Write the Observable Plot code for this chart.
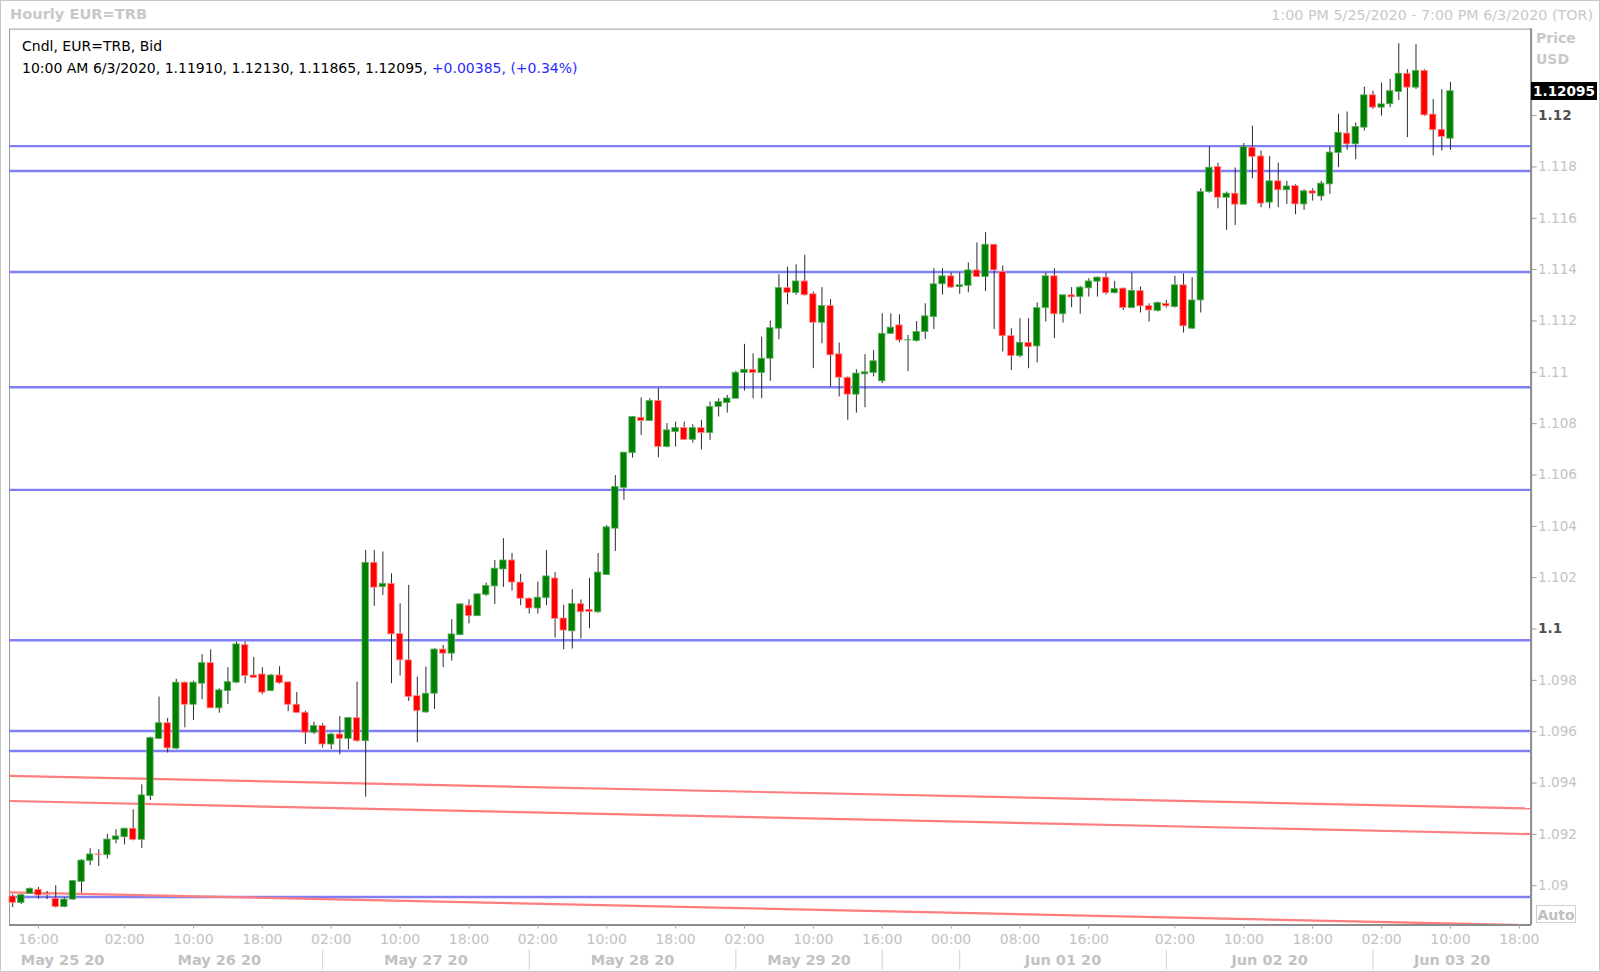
<!DOCTYPE html>
<html>
<head>
<meta charset="utf-8">
<script src="https://cdn.jsdelivr.net/npm/d3@7"></script>
<script src="https://cdn.jsdelivr.net/npm/@observablehq/plot@0.6"></script>
<style>
  html, body { margin: 0; padding: 0; background: #fff; overflow: hidden; }
  #wrap { position: relative; width: 1600px; height: 972px; font-family: "DejaVu Sans", sans-serif; }
  #wrap svg { position: absolute; left: 0; top: 0; }
  .ov { position: absolute; white-space: nowrap; line-height: 1; }
  #outer { position: absolute; left: 0; top: 0; width: 1598px; height: 970px; border: 1px solid #c8c8c8; pointer-events: none; }
</style>
</head>
<body>
<div id="wrap"></div>
<script>
// ---- data (EUR=TRB hourly candles, 13:00 25 May 2020 .. 10:00 3 Jun 2020) ----
const opens = [
1.08958,1.08933,1.08969,1.08984,1.08966,1.08949,1.08917,1.08946,1.09015,1.09097,
1.09122,1.09119,1.09179,1.09189,1.09222,1.09179,1.09349,1.09572,1.09633,1.09534,
1.09791,1.09705,1.09787,1.09867,1.09691,1.09758,1.09791,1.09937,1.09819,1.09823,
1.09758,1.09819,1.09792,1.09705,1.09674,1.09596,1.09622,1.09550,1.09589,1.09572,
1.09653,1.09563,1.10258,1.10163,1.10176,1.09981,1.09878,1.09739,1.09675,1.09748,
1.09920,1.09904,1.09976,1.10091,1.10050,1.10133,1.10166,1.10232,1.10267,1.10181,
1.10118,1.10080,1.10120,1.10197,1.10041,1.09991,1.10097,1.10075,1.10065,1.10210,
1.10391,1.10550,1.10685,1.10823,1.10810,1.10888,1.10709,1.10767,1.10783,1.10737,
1.10783,1.10763,1.10865,1.10880,1.10897,1.10997,1.11010,1.10997,1.11053,1.11170,
1.11328,1.11309,1.11354,1.11304,1.11193,1.11258,1.11070,1.10979,1.10913,1.10992,
1.10997,1.10965,1.11150,1.11183,1.11124,1.11122,1.11157,1.11215,1.11343,1.11374,
1.11332,1.11337,1.11397,1.11371,1.11497,1.11391,1.11141,1.11063,1.11115,1.11101,
1.11250,1.11374,1.11226,1.11300,1.11293,1.11327,1.11353,1.11369,1.11308,1.11326,
1.11250,1.11317,1.11258,1.11239,1.11267,1.11254,1.11339,1.11170,1.11280,1.11702,
1.11800,1.11680,1.11696,1.11653,1.11875,1.11841,1.11661,1.11744,1.11709,1.11726,
1.11654,1.11705,1.11685,1.11732,1.11854,1.11930,1.11888,1.11953,1.12079,1.12031,
1.12044,1.12092,1.12163,1.12109,1.12174,1.12004,1.11945,1.11910];
const highs = [
1.08965,1.08966,1.08991,1.08993,1.08978,1.09000,1.08953,1.09020,1.09102,1.09144,
1.09140,1.09200,1.09218,1.09224,1.09296,1.09393,1.09579,1.09735,1.09652,1.09804,
1.09793,1.09797,1.09900,1.09919,1.09767,1.09849,1.09949,1.09949,1.09889,1.09849,
1.09823,1.09853,1.09795,1.09753,1.09680,1.09637,1.09631,1.09594,1.09659,1.09656,
1.09793,1.10306,1.10306,1.10300,1.10215,1.10098,1.10170,1.09813,1.09852,1.09923,
1.09936,1.10036,1.10098,1.10114,1.10137,1.10179,1.10267,1.10352,1.10294,1.10213,
1.10121,1.10183,1.10306,1.10220,1.10093,1.10153,1.10113,1.10197,1.10294,1.10403,
1.10598,1.10687,1.10828,1.10900,1.10897,1.10936,1.10800,1.10806,1.10806,1.10796,
1.10813,1.10884,1.10897,1.10910,1.11004,1.11109,1.11072,1.11137,1.11200,1.11380,
1.11410,1.11419,1.11456,1.11313,1.11330,1.11284,1.11114,1.10982,1.11010,1.11069,
1.11085,1.11228,1.11228,1.11224,1.11144,1.11198,1.11267,1.11404,1.11404,1.11387,
1.11387,1.11426,1.11504,1.11544,1.11497,1.11414,1.11170,1.11209,1.11209,1.11270,
1.11387,1.11404,1.11300,1.11330,1.11335,1.11365,1.11371,1.11387,1.11354,1.11328,
1.11387,1.11332,1.11267,1.11274,1.11280,1.11374,1.11384,1.11369,1.11715,1.11878,
1.11815,1.11702,1.11796,1.11891,1.11959,1.11862,1.11841,1.11815,1.11744,1.11731,
1.11711,1.11715,1.11744,1.11878,1.12005,1.12014,1.11971,1.12111,1.12095,1.12127,
1.12141,1.12280,1.12179,1.12276,1.12179,1.12063,1.12101,1.12130];
const lows = [
1.08915,1.08927,1.08966,1.08948,1.08946,1.08913,1.08914,1.08943,1.08971,1.09078,
1.09075,1.09104,1.09163,1.09159,1.09175,1.09145,1.09332,1.09569,1.09517,1.09530,
1.09615,1.09644,1.09724,1.09691,1.09672,1.09706,1.09787,1.09787,1.09809,1.09744,
1.09756,1.09785,1.09678,1.09671,1.09550,1.09589,1.09536,1.09530,1.09510,1.09530,
1.09559,1.09345,1.10088,1.10131,1.09787,1.09817,1.09718,1.09557,1.09672,1.09687,
1.09850,1.09875,1.09974,1.10020,1.10049,1.10127,1.10096,1.10162,1.10148,1.10091,
1.10058,1.10058,1.10091,1.09965,1.09919,1.09922,1.09961,1.10001,1.10062,1.10210,
1.10302,1.10501,1.10666,1.10754,1.10810,1.10667,1.10706,1.10709,1.10737,1.10724,
1.10698,1.10735,1.10826,1.10841,1.10896,1.10927,1.10897,1.10897,1.10965,1.11127,
1.11263,1.11300,1.11297,1.11014,1.11111,1.10943,1.10904,1.10813,1.10841,1.10862,
1.10982,1.10956,1.11148,1.11115,1.11003,1.11118,1.11128,1.11167,1.11301,1.11326,
1.11304,1.11310,1.11371,1.11315,1.11167,1.11079,1.11007,1.11057,1.11014,1.11037,
1.11196,1.11131,1.11192,1.11252,1.11226,1.11293,1.11293,1.11301,1.11306,1.11241,
1.11248,1.11231,1.11196,1.11235,1.11250,1.11250,1.11153,1.11167,1.11231,1.11698,
1.11637,1.11553,1.11572,1.11653,1.11754,1.11641,1.11637,1.11641,1.11654,1.11614,
1.11631,1.11667,1.11667,1.11693,1.11797,1.11865,1.11828,1.11940,1.12024,1.11998,
1.12031,1.12059,1.11914,1.12102,1.11997,1.11843,1.11862,1.11865];
const closes = [
1.08933,1.08963,1.08988,1.08962,1.08963,1.08917,1.08946,1.09018,1.09098,1.09122,
1.09120,1.09180,1.09192,1.09222,1.09179,1.09352,1.09575,1.09633,1.09535,1.09791,
1.09705,1.09791,1.09867,1.09691,1.09761,1.09793,1.09940,1.09817,1.09810,1.09752,
1.09819,1.09789,1.09705,1.09673,1.09596,1.09622,1.09550,1.09589,1.09572,1.09653,
1.09563,1.10258,1.10161,1.10176,1.09979,1.09878,1.09735,1.09680,1.09748,1.09920,
1.09904,1.09979,1.10096,1.10050,1.10135,1.10168,1.10235,1.10267,1.10181,1.10118,
1.10080,1.10122,1.10205,1.10039,1.09994,1.10097,1.10065,1.10066,1.10220,1.10396,
1.10553,1.10687,1.10826,1.10810,1.10888,1.10709,1.10774,1.10783,1.10737,1.10783,
1.10763,1.10865,1.10884,1.10898,1.10998,1.11010,1.10997,1.11053,1.11172,1.11328,
1.11309,1.11354,1.11300,1.11193,1.11258,1.11066,1.10979,1.10913,1.10995,1.11000,
1.11043,1.11150,1.11174,1.11124,1.11125,1.11157,1.11218,1.11343,1.11374,1.11330,
1.11339,1.11397,1.11371,1.11497,1.11397,1.11141,1.11063,1.11115,1.11098,1.11250,
1.11374,1.11226,1.11300,1.11292,1.11330,1.11354,1.11369,1.11308,1.11324,1.11250,
1.11317,1.11257,1.11241,1.11270,1.11257,1.11339,1.11179,1.11280,1.11702,1.11797,
1.11680,1.11696,1.11653,1.11878,1.11839,1.11657,1.11744,1.11709,1.11724,1.11654,
1.11705,1.11696,1.11735,1.11856,1.11933,1.11888,1.11956,1.12079,1.12031,1.12044,
1.12095,1.12163,1.12109,1.12174,1.12001,1.11943,1.11917,1.12095];

// horizontal support / resistance levels (blue)
const levels = [1.11881, 1.11784, 1.11391, 1.10942, 1.10542, 1.09956, 1.09603, 1.09525, 1.08956];
// sloping trend lines (red): value at left edge, value at right edge
const trendStart = [1.09428, 1.09330, 1.08974];
const trendEnd   = [1.09301, 1.09201, 1.08846];

// axes
const yTicks = [1.09,1.092,1.094,1.096,1.098,1.1,1.102,1.104,1.106,1.108,1.11,1.112,1.114,1.116,1.118,1.12];
const yMajor = [1.1, 1.12];
const timeTickIdx = [3,13,21,29,37,45,53,61,69,77,85,93,101,109,117,125,135,143,151,159,167,175];
const timeTickLabels = ["16:00","02:00","10:00","18:00","02:00","10:00","18:00","02:00","10:00","18:00","02:00","10:00","16:00","00:00","08:00","16:00","02:00","10:00","18:00","02:00","10:00","18:00"];
const daySepIdx = [36, 60, 84, 101, 110, 134, 158];
const dayLabelIdx = [5.8, 24, 48, 72, 92.5, 122, 146, 167.2];
const dayLabels = ["May 25 20","May 26 20","May 27 20","May 28 20","May 29 20","Jun 01 20","Jun 02 20","Jun 03 20"];
const xDomain = [-0.37, 176.37];
const yDomain = [1.08847, 1.12337];

const last = {time: "10:00 AM 6/3/2020", open: 1.11910, high: 1.12130, low: 1.11865, close: 1.12095, chg: "+0.00385", pct: "(+0.34%)"};

// ---- build tables ----
const candles = opens.map((o, i) => ({i, open: o, high: highs[i], low: lows[i], close: closes[i], up: closes[i] >= o}));
const trends = trendStart.map((s, k) => ({start: s, end: trendEnd[k]}));
const timeTicks = timeTickIdx.map((i, k) => ({i, label: timeTickLabels[k]}));
const dayTicks = dayLabelIdx.map((i, k) => ({i, label: dayLabels[k]}));
const fmtY = d => d3.format(".3~f")(d);

const GREEN = "#008000", RED = "#ff0000";

const chart = Plot.plot({
  width: 1600,
  height: 972,
  marginTop: 28.6,
  marginBottom: 47.5,
  marginLeft: 9,
  marginRight: 69.4,
  x: {domain: xDomain, axis: null, label: null},
  y: {domain: yDomain, axis: null, label: null},
  style: {background: "transparent", fontFamily: "DejaVu Sans, sans-serif", overflow: "visible"},
  marks: [
    Plot.frame({stroke: "#9a9a9a", strokeWidth: 1}),
    Plot.ruleY(levels, {stroke: "#7f7ff5", strokeWidth: 2.4}),
    Plot.link(trends, {x1: () => xDomain[0], x2: () => xDomain[1], y1: "start", y2: "end", stroke: "#ff7d7d", strokeWidth: 2.2, clip: true}),
    Plot.ruleX(candles, {x: "i", y1: "low", y2: "high", stroke: "#2b2b2b", strokeWidth: 1}),
    Plot.rect(candles, {
      x1: d => d.i - 0.37, x2: d => d.i + 0.37,
      y1: "open", y2: "close",
      fill: d => d.up ? GREEN : RED,
      stroke: d => d.up ? "#5daf5d" : "#ff8a8a",
      strokeWidth: 0.8
    }),
    // right & bottom axis lines
    Plot.ruleX([xDomain[1]], {stroke: "#8c8c8c", strokeWidth: 2}),
    Plot.ruleY([yDomain[0]], {stroke: "#8c8c8c", strokeWidth: 2}),
    // y axis ticks and labels
    Plot.axisY({anchor: "right", ticks: yTicks, tickSize: 5, tickPadding: 3, tickFormat: () => "", stroke: "#9a9a9a", label: null}),
    Plot.text(yTicks.filter(t => !yMajor.includes(t)), {y: d => d, text: fmtY, frameAnchor: "right", textAnchor: "start", dx: 7, fill: "#c4c4c4", fontSize: 13.6}),
    Plot.text(yMajor, {y: d => d, text: fmtY, frameAnchor: "right", textAnchor: "start", dx: 7, fill: "#505050", fontWeight: "bold", fontSize: 13.6}),
    // x axis ticks and labels
    Plot.axisX({anchor: "bottom", ticks: timeTickIdx, tickSize: 4, tickFormat: () => "", stroke: "#a8a8a8", label: null}),
    Plot.text(timeTicks, {x: "i", text: "label", frameAnchor: "bottom", lineAnchor: "middle", dy: 15, fill: "#c2c2c2", fontSize: 14}),
    Plot.axisX({anchor: "bottom", ticks: daySepIdx, tickSize: 20, dy: 25, tickFormat: () => "", stroke: "#d0d0d0", label: null}),
    Plot.text(dayTicks, {x: "i", text: "label", frameAnchor: "bottom", lineAnchor: "middle", dy: 35, fill: "#c2c2c2", fontWeight: "bold", fontSize: 14.5})
  ]
});

const wrap = document.getElementById("wrap");
wrap.appendChild(chart);

function ov(html, css) {
  const d = document.createElement("div");
  d.className = "ov";
  d.innerHTML = html;
  Object.assign(d.style, css);
  wrap.appendChild(d);
  return d;
}
// title bar
ov("Hourly EUR=TRB", {left: "10px", top: "7px", fontSize: "14.6px", fontWeight: "bold", color: "#c8c8c8"});
ov("1:00 PM 5/25/2020 - 7:00 PM 6/3/2020 (TOR)", {right: "7px", top: "8px", fontSize: "14.3px", color: "#c8c8c8"});
// legend inside plot
ov("Cndl, EUR=TRB, Bid", {left: "22px", top: "39px", fontSize: "14px", color: "#000"});
ov(`${last.time}, ${last.open.toFixed(5)}, ${last.high.toFixed(5)}, ${last.low.toFixed(5)}, ${last.close.toFixed(5)}, <span style="color:#2a2aff">${last.chg}, ${last.pct}</span>`,
   {left: "22px", top: "61px", fontSize: "14px", color: "#000"});
// price axis caption
ov("Price", {left: "1536px", top: "31px", fontSize: "14px", fontWeight: "bold", color: "#c8c8c8"});
ov("USD", {left: "1536px", top: "52px", fontSize: "14px", fontWeight: "bold", color: "#c8c8c8"});
// last price marker
const yLast = chart.scale("y").apply(last.close);
ov(last.close.toFixed(5), {left: "1531px", top: (yLast - 9) + "px", width: "66px", height: "18px", lineHeight: "18px",
   background: "#000", color: "#fff", fontWeight: "bold", fontSize: "13.6px", textAlign: "center"});
// Auto button
ov("Auto", {left: "1536px", top: "905px", width: "40px", height: "18px", lineHeight: "18px", border: "1px solid #d0d0d0",
   boxSizing: "border-box", color: "#c0c0c0", fontWeight: "bold", fontSize: "14px", textAlign: "center"});
// outer border
const ob = document.createElement("div"); ob.id = "outer"; wrap.appendChild(ob);
</script>
</body>
</html>
